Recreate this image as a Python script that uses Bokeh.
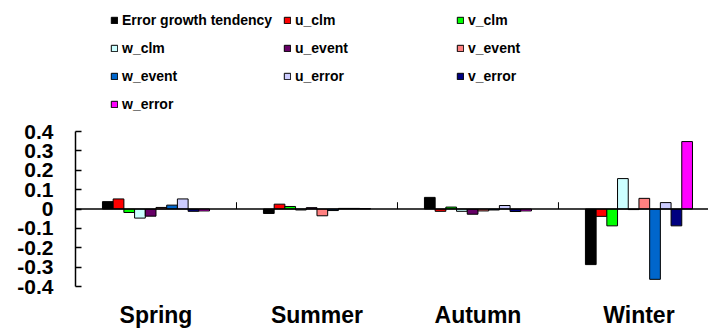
from bokeh.plotting import figure
from bokeh.layouts import column
from bokeh.models import (Range1d, FixedTicker, Span, Legend, LegendItem,
                          ColumnDataSource)
from bokeh.embed import file_html
from bokeh.resources import INLINE

# Seasons along the category axis
seasons = ["Spring", "Summer", "Autumn", "Winter"]

# Series names and fill colours
series = ["Error growth tendency", "u_clm", "v_clm", "w_clm", "u_event",
          "v_event", "w_event", "u_error", "v_error", "w_error"]
colors = ["#000000", "#FF0000", "#00FF00", "#CCFFFF", "#660066",
          "#FF8080", "#0066CC", "#CCCCFF", "#000080", "#FF00FF"]

# Values per series, one per season (Spring, Summer, Autumn, Winter)
error_growth = [0.038, -0.023, 0.060, -0.287]
u_clm = [0.052, 0.025, -0.012, -0.038]
v_clm = [-0.018, 0.013, 0.010, -0.087]
w_clm = [-0.047, -0.005, -0.012, 0.157]
u_event = [-0.037, 0.007, -0.027, -0.003]
v_event = [0.008, -0.035, -0.010, 0.055]
w_event = [0.020, -0.008, -0.005, -0.363]
u_error = [0.052, 0.003, 0.018, 0.033]
v_error = [-0.012, 0.003, -0.013, -0.087]
w_error = [-0.010, 0.002, -0.010, 0.348]
values = [error_growth, u_clm, v_clm, w_clm, u_event,
          v_event, w_event, u_error, v_error, w_error]

y_ticks = [-0.4, -0.3, -0.2, -0.1, 0.0, 0.1, 0.2, 0.3, 0.4]
y_tick_labels = ["-0.4", "-0.3", "-0.2", "-0.1", "0", "0.1", "0.2", "0.3", "0.4"]

FONT = "Liberation Sans"
n_series = len(series)
group_width = 0.665
bar_w = group_width / n_series
centers = [i + 0.5 for i in range(len(seasons))]

LEGEND_H = 116

# ---- main bar chart ----
p = figure(width=708, height=330 - LEGEND_H, output_backend="svg",
           toolbar_location=None,
           x_range=Range1d(0, 3.932), y_range=Range1d(-0.4, 0.4),
           min_border_left=75, min_border_right=0, min_border_top=15,
           min_border_bottom=39, outline_line_color=None,
           background_fill_color="white", border_fill_color="white")
p.grid.visible = False

for k, (name, col, vals) in enumerate(zip(series, colors, values)):
    offset = (k - (n_series - 1) / 2) * bar_w
    src = ColumnDataSource(dict(x=[c + offset for c in centers], top=vals))
    p.vbar(x="x", top="top", bottom=0, width=bar_w, source=src,
           fill_color=col, line_color="black", line_width=1)

# zero line acting as the category axis
p.add_layout(Span(location=0, dimension="width", line_color="black",
                  line_width=1.5))

# category boundary tick marks standing on the zero line
bounds = list(range(1, len(seasons)))
p.segment(x0=bounds, x1=bounds, y0=[0] * len(bounds),
          y1=[0.035] * len(bounds), line_color="black", line_width=1)

# y axis
yax = p.yaxis[0]
yax.ticker = FixedTicker(ticks=y_ticks)
yax.major_label_overrides = {t: l for t, l in zip(y_ticks, y_tick_labels)}
yax.major_tick_in = 6
yax.major_tick_out = 0
yax.minor_tick_line_color = None
yax.axis_line_width = 1.5
yax.major_tick_line_width = 1.5
yax.major_label_standoff = 22
yax.major_label_text_font = FONT
yax.major_label_text_font_style = "bold"
yax.major_label_text_font_size = "21px"
yax.major_label_text_color = "black"

# x axis: season names only
xax = p.xaxis[0]
xax.ticker = FixedTicker(ticks=centers)
xax.major_label_overrides = {c: s for c, s in zip(centers, seasons)}
xax.axis_line_color = None
xax.major_tick_line_color = None
xax.minor_tick_line_color = None
xax.major_tick_in = 0
xax.major_tick_out = 0
xax.minor_tick_in = 0
xax.minor_tick_out = 0
xax.major_label_standoff = 15
xax.major_label_text_font = FONT
xax.major_label_text_font_style = "bold"
xax.major_label_text_font_size = "23px"
xax.major_label_text_color = "black"

# ---- legend strip above the chart ----
lf = figure(width=708, height=LEGEND_H, output_backend="svg",
            toolbar_location=None, x_axis_type=None, y_axis_type=None,
            x_range=Range1d(0, 1), y_range=Range1d(0, 1),
            min_border=0, outline_line_color=None,
            background_fill_color="white", border_fill_color="white")
lf.grid.visible = False

# legend swatches: one proxy bar per series, kept outside the visible range
items = []
for name, col in zip(series, colors):
    r = lf.vbar(x=[-1], top=[0], width=0.1, fill_color=col,
                line_color="black", line_width=1)
    items.append(LegendItem(label=name, renderers=[r]))

legend = Legend(items=items, ncols=3, orientation="horizontal",
                location=(35, 2),
                glyph_width=8, glyph_height=8, label_standoff=4,
                label_width=153, label_height=20, spacing=8, padding=0,
                margin=0, border_line_color=None, background_fill_alpha=0,
                label_text_font=FONT, label_text_font_style="bold",
                label_text_font_size="14px", label_text_color="black")
lf.add_layout(legend, "center")

layout = column(lf, p, spacing=0)
open("out.html", "w").write(file_html(layout, INLINE))
